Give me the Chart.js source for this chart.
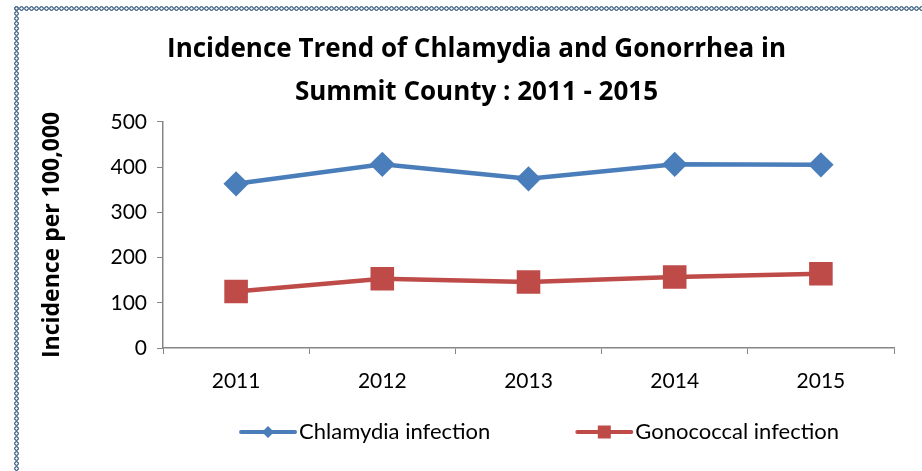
<!DOCTYPE html>
<html>
<head>
<meta charset="utf-8">
<script src="https://cdn.jsdelivr.net/npm/chart.js@4.4.0/dist/chart.umd.min.js"></script>
<style>
  html, body { margin: 0; padding: 0; background: #fff; overflow: hidden; }
  .chain {
    position: absolute;
    background-image: radial-gradient(circle, transparent 0.8px, #55738f 1.4px, #55738f 2.1px, transparent 2.6px);
    background-size: 5px 5px;
  }
  #edgeTop { left: 14px; top: 6px; width: 920px; height: 5px; }
  #edgeLeft { left: 14px; top: 6px; width: 5px; height: 470px; }
  #wrap { position: absolute; left: 0; top: 0; width: 922px; height: 471px; }
</style>
</head>
<body>
<div class="chain" id="edgeTop"></div>
<div class="chain" id="edgeLeft"></div>
<div id="wrap"><canvas id="canvas"></canvas></div>
<script>
// data
var years = ['2011', '2012', '2013', '2014', '2015'];
var chlamydia = [363, 406, 374, 406, 405];
var gonococcal = [125, 153, 146, 157, 164];
var seriesNames = ['Chlamydia infection', 'Gonococcal infection'];
var titleLines = ['Incidence Trend of Chlamydia and Gonorrhea in', 'Summit County : 2011 - 2015'];
var yTitle = 'Incidence per 100,000';

var FONT = 'Lato, "Open Sans", sans-serif';
var BOLD = '"Open Sans", Lato, sans-serif';
var axisGrey = '#868686';

// legend drawn on the canvas: line + marker + text, like the office chart
var lineLegend = {
  id: 'lineLegend',
  afterDraw: function(chart) {
    var ctx = chart.ctx;
    var sets = chart.data.datasets;
    var swatch = 58, gap = 2, between = 85;
    ctx.save();
    ctx.font = '22px ' + FONT;
    var widths = sets.map(function(ds) { return swatch + gap + ctx.measureText(ds.label).width; });
    var total = widths.reduce(function(a, b) { return a + b; }, 0) + between * (sets.length - 1);
    var x = 539 - total / 2;
    var y = 432;
    sets.forEach(function(ds, i) {
      ctx.strokeStyle = ds.borderColor;
      ctx.lineWidth = 4;
      ctx.lineCap = 'round';
      ctx.beginPath();
      ctx.moveTo(x + 2, y);
      ctx.lineTo(x + swatch - 2, y);
      ctx.stroke();
      ctx.fillStyle = ds.pointBackgroundColor;
      var cx = x + swatch / 2;
      ctx.beginPath();
      if (ds.pointStyle === 'rectRot') {
        ctx.moveTo(cx, y - 6); ctx.lineTo(cx + 6, y); ctx.lineTo(cx, y + 6); ctx.lineTo(cx - 6, y);
      } else {
        ctx.rect(cx - 6.5, y - 6.5, 13, 13);
      }
      ctx.closePath();
      ctx.fill();
      ctx.fillStyle = '#000';
      ctx.textBaseline = 'middle';
      ctx.fillText(ds.label, x + swatch + gap, y);
      x += widths[i] + between;
    });
    ctx.restore();
  }
};

var chart = new Chart(document.getElementById('canvas'), {
  type: 'line',
  data: {
    labels: years,
    datasets: [{
      label: seriesNames[0],
      data: chlamydia,
      borderColor: '#4a7ebb',
      backgroundColor: '#4a7ebb',
      pointBackgroundColor: '#4a7ebb',
      pointBorderColor: '#4a7ebb',
      borderWidth: 4.5,
      pointStyle: 'rectRot',
      pointRadius: 9.5,
      pointHoverRadius: 9.5,
      tension: 0
    }, {
      label: seriesNames[1],
      data: gonococcal,
      borderColor: '#be4b48',
      backgroundColor: '#be4b48',
      pointBackgroundColor: '#be4b48',
      pointBorderColor: '#be4b48',
      borderWidth: 4.5,
      pointStyle: 'rect',
      pointRadius: 13.5,
      pointHoverRadius: 13.5,
      tension: 0
    }]
  },
  options: {
    responsive: true,
    maintainAspectRatio: false,
    animation: false,
    // left padding 59 keeps the title centred where the original had it
    layout: { padding: { left: 59, right: 28, top: 12, bottom: 0 } },
    plugins: {
      legend: { display: false },
      tooltip: { enabled: false },
      title: {
        display: true,
        text: titleLines,
        color: '#000',
        font: { family: BOLD, size: 26, weight: 'bold', lineHeight: 1.67 },
        padding: { top: 15.5, bottom: 7.5 }
      }
    },
    scales: {
      x: {
        offset: true,
        grid: { offset: true, drawOnChartArea: false, drawTicks: true, tickLength: 6, color: axisGrey },
        border: { color: axisGrey, width: 1.5 },
        ticks: { color: '#000', font: { family: FONT, size: 21 }, padding: 15 },
        afterFit: function(s) { s.height = 123; }
      },
      y: {
        min: 0,
        max: 500,
        grid: { drawOnChartArea: false, drawTicks: true, tickLength: 6, color: axisGrey },
        border: { color: axisGrey, width: 1.5 },
        ticks: { stepSize: 100, color: '#000', font: { family: FONT, size: 21 }, padding: 10 },
        title: {
          display: true,
          text: yTitle,
          color: '#000',
          font: { family: BOLD, size: 23, weight: 'bold' },
          padding: { top: -20, bottom: 0 }
        },
        afterFit: function(s) { s.width = 104; }
      }
    }
  },
  plugins: [lineLegend]
});
</script>
</body>
</html>
